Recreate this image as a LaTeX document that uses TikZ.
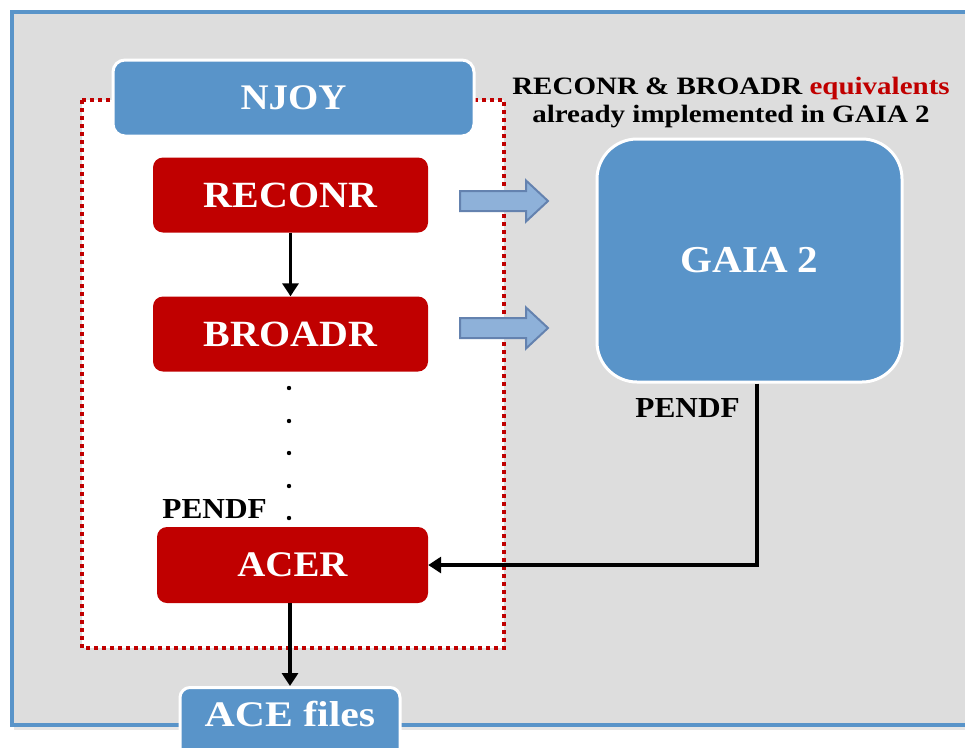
\documentclass[tikz,border=0pt]{standalone}
\usepackage{fontspec}
\setmainfont{Liberation Serif}[FakeStretch=1.08]
\newfontfamily\widefont{Liberation Serif}[FakeStretch=1.16]
\usepackage{tikz}
\usetikzlibrary{arrows.meta,positioning,shadows}

\definecolor{frameblue}{RGB}{89,148,201}
\definecolor{boxblue}{RGB}{89,148,201}
\definecolor{boxred}{RGB}{192,0,0}
\definecolor{panelgray}{RGB}{221,221,221}
\definecolor{arrowfill}{RGB}{142,177,217}
\definecolor{arrowline}{RGB}{100,130,175}

\tikzset{
  procbox/.style={rectangle, rounded corners=10pt, fill=boxred, text=white,
    minimum width=275pt, minimum height=75pt, font=\fontsize{37}{40}\selectfont\bfseries},
  bluebox/.style={rectangle, rounded corners=12pt, fill=boxblue, draw=white, line width=3pt,
    text=white, font=\fontsize{37}{40}\selectfont\bfseries},
  flow/.style={draw, line width=3.2pt, -{Triangle[length=13pt,width=16pt]}},
  tag/.style={font=\fontsize{29}{31}\selectfont\bfseries, inner sep=0pt}
}

\begin{document}
\begin{tikzpicture}[x=1pt, y=-1pt]
\useasboundingbox (0,0) rectangle (965,747);

% outer panel
\draw[frameblue, line width=4pt, fill=panelgray,
  drop shadow={opacity=0.2, shadow xshift=2pt, shadow yshift=-5pt}] (12,12) rectangle (975,725);

% NJOY frame
\draw[boxred, line width=3.5pt, fill=white, dash pattern=on 4pt off 4pt] (82,100) rectangle (504,648);

\node[bluebox, minimum width=361pt, minimum height=76pt, font=\fontsize{36}{40}\selectfont\bfseries]
  (njoy) at (293.5,98) {NJOY};
\node[procbox] (reconr) at (290.5,195) {RECONR};
\node[procbox] (broadr) at (290.5,334) {BROADR};
\node[procbox, minimum width=271pt, minimum height=76pt, font=\fontsize{36}{40}\selectfont\bfseries]
  (acer) at (292.5,565) {ACER};
\node[bluebox, rounded corners=10pt, minimum width=220pt, minimum height=84pt, anchor=north,
  font=\widefont\fontsize{36}{40}\selectfont\bfseries, text depth=32pt] (ace) at (290,686) {ACE files};
\node[bluebox, rounded corners=40pt, minimum width=305pt, minimum height=243pt,
  font=\fontsize{38}{40}\selectfont\bfseries] (gaia) at (749.5,260.5) {GAIA 2};

% header
\node[font=\widefont\fontsize{25}{27}\selectfont\bfseries, inner sep=0pt] (head1) at (731,88)
  {RECONR \& BROADR \textcolor{boxred}{equivalents}};
\node[font=\widefont\fontsize{25}{27}\selectfont\bfseries, inner sep=0pt] (head2) at (731,117)
  {already implemented in GAIA 2};

% hollow arrows towards GAIA 2
\foreach \y in {201,328}
  \draw[arrowline, line width=2pt, fill=arrowfill, line join=miter]
    (460,\y-10) -- (526,\y-10) -- (526,\y-20.5) -- (548,\y) -- (526,\y+20.5)
    -- (526,\y+10) -- (460,\y+10) -- cycle;

% skipped modules
\foreach \y in {388,421,453,486,518}
  \fill (289,\y) circle (2.2pt);

\node[tag, anchor=east] (pendfa) at (267,509) {PENDF};
\node[tag, anchor=east] (pendfb) at (740,408) {PENDF};

% connectors
\coordinate (bend) at (757,565);
\draw[flow] (reconr.south -| broadr.north) -- (broadr.north);
\draw[flow] (acer.south -| ace.north) -- (ace.north);
\draw[flow] (gaia.south -| bend) -- (bend) -- (acer.east);
\end{tikzpicture}
\end{document}
